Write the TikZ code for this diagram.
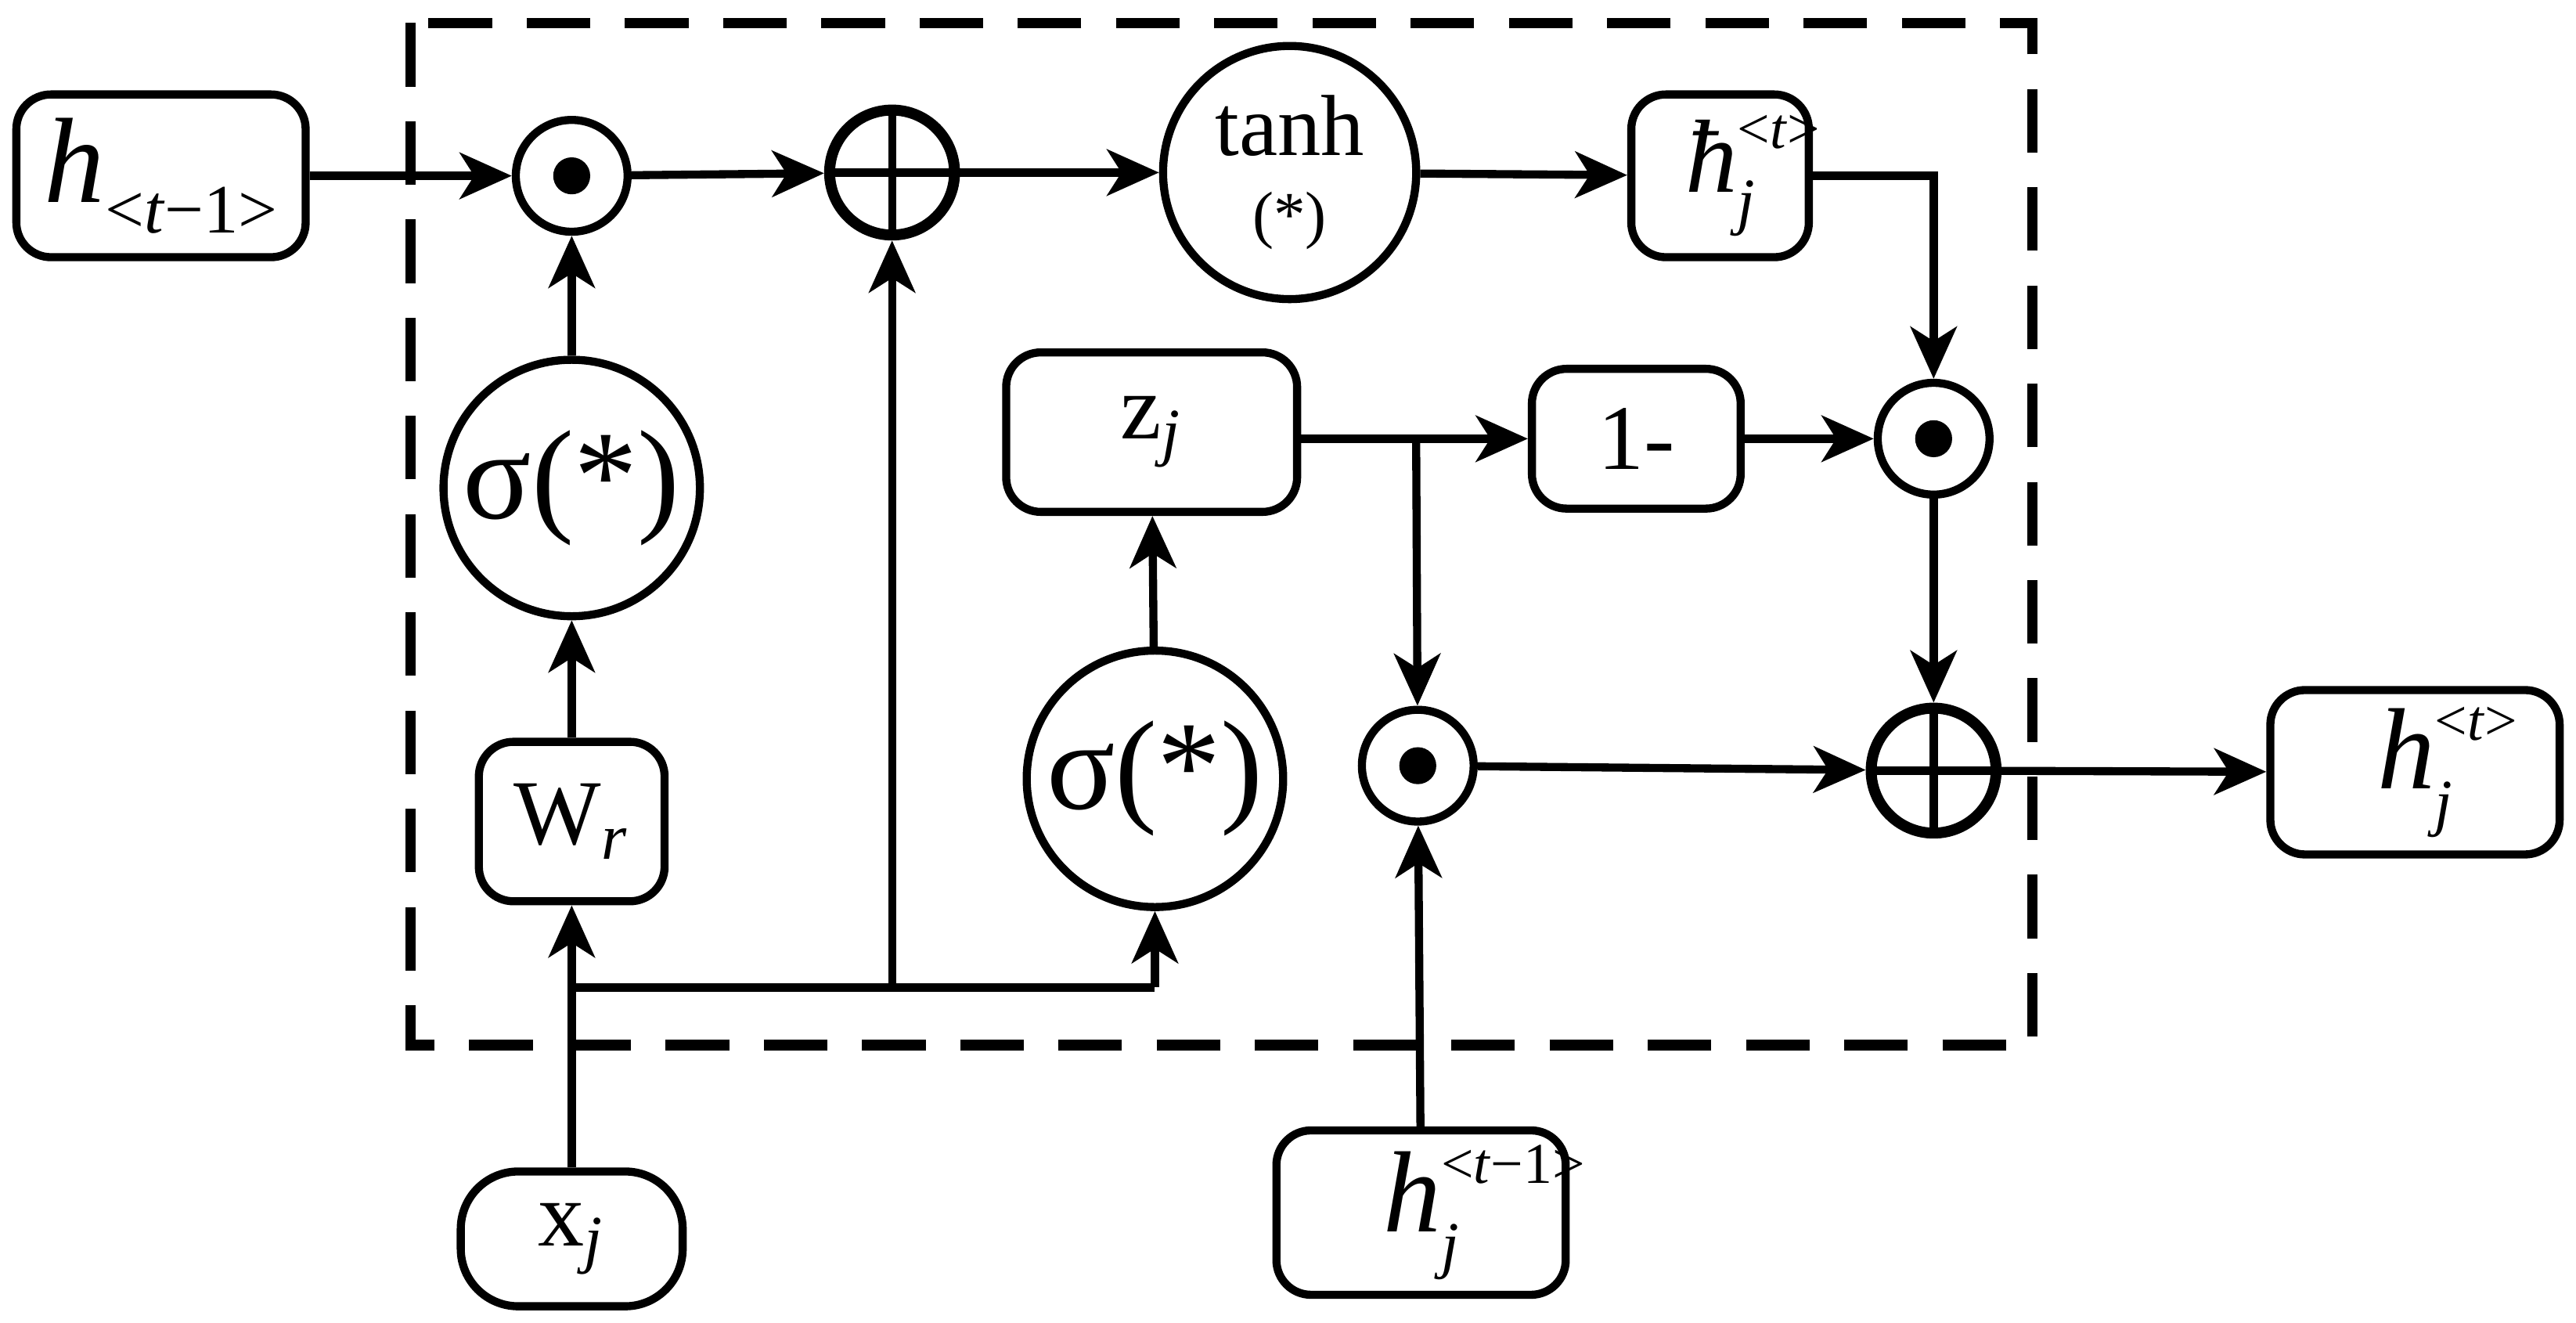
\documentclass[tikz,border=0pt]{standalone}
\usepackage{fontspec}
\setmainfont{Liberation Serif}
\usetikzlibrary{arrows.meta}
\newcommand{\hsj}[3]{\textit{#1}\rlap{\raisebox{0.42em}{\fontsize{10pt}{10pt}\selectfont#2}}\raisebox{-0.3em}{\fontsize{11pt}{11pt}\selectfont\textit{j}}\hspace{#3}}
\begin{document}
\begin{tikzpicture}[x=0.01cm,y=-0.01cm,
  line width=1.4pt,
  >={Stealth[length=9pt,width=8pt,inset=2.5pt]},
  box/.style={draw,rounded corners=6pt,inner sep=0pt},
  circ/.style={draw,circle,inner sep=0pt},
  dotc/.style={circ,minimum size=6.8mm,path picture={\fill (path picture bounding box.center) circle (3.2pt);}},
  plusc/.style={circ,minimum size=7.6mm,line width=1.9pt,path picture={\draw[line width=1.4pt] (path picture bounding box.north)--(path picture bounding box.south) (path picture bounding box.west)--(path picture bounding box.east);}},
  every node/.style={font=\fontsize{16pt}{18pt}\selectfont}]
\useasboundingbox (0,0) rectangle (1568,805);
\draw[line width=1.8pt,dash pattern=on 11pt off 6pt] (250,14) rectangle (1237,636);
\node[box,minimum width=17.6mm,minimum height=9.9mm,font=\fontsize{21pt}{22pt}\selectfont] (hp) at (98,107) {\textit{h}\raisebox{-0.25em}{\fontsize{12pt}{13pt}\selectfont<\textit{t}−1>}};
\node[dotc] (d1) at (348,107) {};
\node[plusc] (p1) at (543,105) {};
\node[circ,minimum size=15.4mm,align=center,font=\fontsize{15pt}{16pt}\selectfont] (th) at (785,105) {tanh\\[-2pt]{\fontsize{11pt}{12pt}\selectfont\,(*)\,}};
\node[box,minimum width=10.8mm,minimum height=9.9mm,font=\fontsize{18pt}{20pt}\selectfont] (hb) at (1047,107) {\hsj{ħ}{<\textit{t}>}{1.2em}};
\node[circ,minimum size=15.6mm,font=\fontsize{22pt}{24pt}\selectfont] (s1) at (348,297) {σ(*)};
\node[box,minimum width=11.3mm,minimum height=9.7mm] (wr) at (348,500) {W\textsubscript{\textit{r}}};
\node[box,minimum width=17.7mm,minimum height=9.7mm] (zj) at (701,263) {z\textsubscript{\textit{j}}};
\node[box,minimum width=12.7mm,minimum height=8.5mm] (om) at (996,267) {1-};
\node[dotc] (d2) at (1177,267) {};
\node[circ,minimum size=15.6mm,font=\fontsize{22pt}{24pt}\selectfont] (s2) at (703,474) {σ(*)};
\node[dotc] (d3) at (863,466) {};
\node[plusc] (p2) at (1177,469) {};
\node[box,minimum width=17.6mm,minimum height=10mm,font=\fontsize{20pt}{22pt}\selectfont] (ht) at (1470,470) {\hsj{h}{<\textit{t}>}{1.2em}};
\node[box,rounded corners=3.5mm,minimum width=13.5mm,minimum height=8.2mm] (xj) at (348,754) {x\textsubscript{\textit{j}}};
\node[box,minimum width=17.6mm,minimum height=10mm,font=\fontsize{20pt}{22pt}\selectfont] (hj) at (865,738) {\hsj{h}{<\textit{t}−1>}{2em}};
\coordinate (c1) at (348,601);
\coordinate (c2) at (543,601);
\coordinate (c3) at (703,601);
\coordinate (c4) at (862,267);
\draw[->] (hp) -- (d1);
\draw[->] (d1) -- (p1);
\draw[->] (p1) -- (th);
\draw[->] (th) -- (hb);
\draw[->] (hb.east) -| (d2);
\draw[->] (s1) -- (d1);
\draw[->] (wr) -- (s1);
\draw[->] (xj) -- (wr);
\draw (c1) -- (c3);
\draw[->] (c3) -- (s2);
\draw[->] (c2) -- (p1);
\draw[->] (s2) -- (zj);
\draw[->] (zj.east |- om) -- (om);
\draw[->] (c4) -- (d3);
\draw[->] (om) -- (d2);
\draw[->] (d2) -- (p2);
\draw[->] (d3) -- (p2);
\draw[->] (p2) -- (ht);
\draw[->] (hj) -- (d3);
\end{tikzpicture}
\end{document}
